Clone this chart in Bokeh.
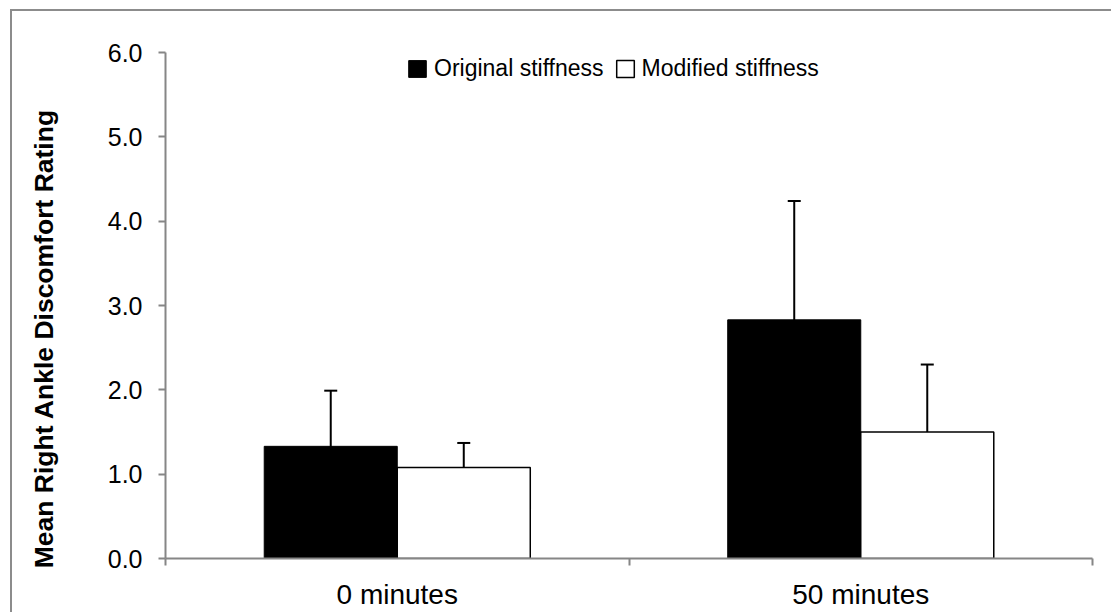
from bokeh.plotting import figure
from bokeh.models import (ColumnDataSource, Range1d, FixedTicker, Whisker, TeeHead,
                          Legend, LegendItem)
from bokeh.embed import file_html
from bokeh.resources import INLINE

# ---- data ----
categories = ["0 minutes", "50 minutes"]
series_names = ["Original stiffness", "Modified stiffness"]
original_mean = [1.33, 2.83]
original_err = [0.66, 1.41]
modified_mean = [1.08, 1.50]
modified_err = [0.29, 0.80]
y_ticks = [0, 1, 2, 3, 4, 5, 6]
y_title = "Mean Right Ankle Discomfort Rating"

FONT = "Liberation Sans"
AXIS_GRAY = "#868686"
BAR_W = 0.287
OFF = BAR_W / 2

centers = [i + 0.5 for i in range(len(categories))]

src_o = ColumnDataSource(dict(
    x=[c - OFF for c in centers], top=original_mean,
    upper=[m + e for m, e in zip(original_mean, original_err)],
    lower=[m - e for m, e in zip(original_mean, original_err)]))
src_m = ColumnDataSource(dict(
    x=[c + OFF for c in centers], top=modified_mean,
    upper=[m + e for m, e in zip(modified_mean, modified_err)],
    lower=[m - e for m, e in zip(modified_mean, modified_err)]))

p = figure(width=1101, height=603, output_backend="svg", toolbar_location=None,
           x_range=Range1d(0, len(categories)), y_range=Range1d(0, 6),
           min_border_left=153, min_border_right=21, min_border_top=41,
           min_border_bottom=56)
p.margin = (9, 0, 0, 10)
p.styles = {"border-left": "2px solid #8c8c8c", "border-top": "2px solid #8c8c8c"}
p.outline_line_color = None
p.xgrid.grid_line_color = None
p.ygrid.grid_line_color = None
p.background_fill_color = "white"
p.border_fill_color = "white"

r_o = p.vbar(x="x", top="top", width=BAR_W, bottom=0, source=src_o,
             fill_color="black", line_color="black", line_width=1)
r_m = p.vbar(x="x", top="top", width=BAR_W, bottom=0, source=src_m,
             fill_color="white", line_color="black", line_width=1.5)

for src in (src_o, src_m):
    w = Whisker(base="x", upper="upper", lower="lower", source=src,
                line_color="black", line_width=2,
                upper_head=TeeHead(size=13, line_width=2, line_color="black"),
                lower_head=TeeHead(size=13, line_width=2, line_color="black"))
    p.add_layout(w)

# y axis
yax = p.yaxis[0]
yax.ticker = FixedTicker(ticks=y_ticks)
yax.major_label_overrides = {t: f"{t:.1f}" for t in y_ticks}
yax.axis_line_color = AXIS_GRAY
yax.axis_line_width = 2
yax.major_tick_line_color = AXIS_GRAY
yax.major_tick_line_width = 2
yax.major_tick_out = 7
yax.major_tick_in = 0
yax.minor_tick_line_color = None
yax.major_label_text_font = FONT
yax.major_label_text_font_size = "25px"
yax.major_label_text_color = "black"
yax.major_label_standoff = 16
# pad the top end with no-break spaces so the centred title sits lower,
# as it does in the original
yax.axis_label = y_title + "\u00a0" * 9
yax.axis_label_text_font = FONT
yax.axis_label_text_font_style = "bold"
yax.axis_label_text_font_size = "26.5px"
yax.axis_label_text_color = "black"
yax.axis_label_standoff = 46

# x axis: labels at category centres, tick marks at boundaries
p.xaxis.ticker = FixedTicker(ticks=centers,
                             minor_ticks=list(range(len(categories) + 1)))
p.xaxis.major_label_overrides = {c: n for c, n in zip(centers, categories)}
p.xaxis.axis_line_color = AXIS_GRAY
p.xaxis.axis_line_width = 2
p.xaxis.major_tick_line_color = None
p.xaxis.minor_tick_line_color = AXIS_GRAY
p.xaxis.minor_tick_line_width = 2
p.xaxis.minor_tick_out = 7
p.xaxis.minor_tick_in = 0
p.xaxis.major_label_text_font = FONT
p.xaxis.major_label_text_font_size = "28px"
p.xaxis.major_label_text_color = "black"
p.xaxis.major_label_standoff = 13

legend = Legend(items=[LegendItem(label=series_names[0], renderers=[r_o]),
                       LegendItem(label=series_names[1], renderers=[r_m])],
                orientation="horizontal", location=(241, 476),
                border_line_color=None, background_fill_alpha=0,
                padding=0, margin=0, spacing=10, label_standoff=6,
                glyph_width=22, glyph_height=21,
                label_text_font=FONT, label_text_font_size="23px",
                label_text_color="black")
p.add_layout(legend)

open("out.html", "w").write(file_html(p, INLINE))
